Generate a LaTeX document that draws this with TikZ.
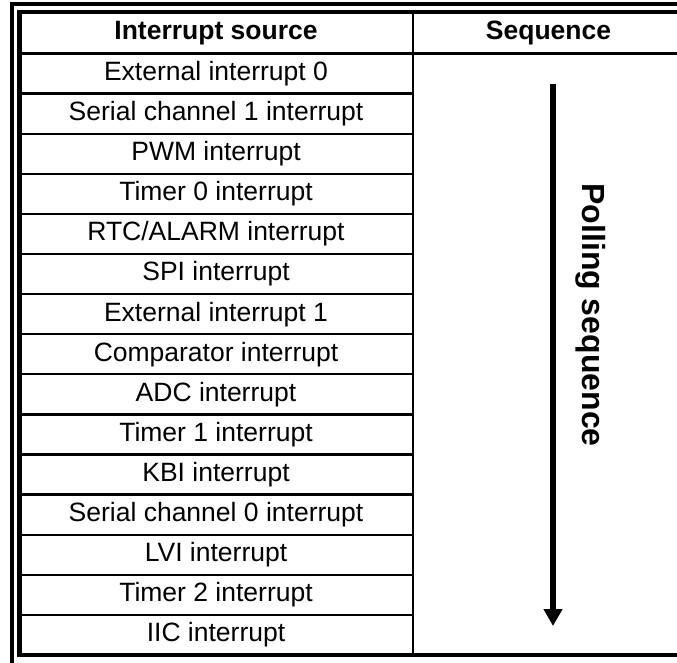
\documentclass[tikz,border=0pt]{standalone}
\usepackage{fontspec}
\setmainfont{Liberation Sans}
\usetikzlibrary{arrows.meta}
\def \rowh{40.1}
\def \rowtop{53.5}
\def \outerframe{ (12,700) -- (12,4) -- (700,4) }
\def \tableframe{ (700,12) -- (19.5,12) -- (19.5,655) -- (700,655) }

\begin{document}
\begin{tikzpicture}[x=1pt,y=-1pt,
    srccell/.style={font=\fontsize{26.5}{30}\selectfont, inner sep=0pt},
    headcell/.style={font=\fontsize{26.5}{30}\selectfont\bfseries, inner sep=0pt},
    thinrule/.style={line width=2.3pt},
    thickrule/.style={line width=4.3pt}]

    \useasboundingbox (0,0) rectangle (677,662);
    \clip (0,0) rectangle (677,662);

    \draw[thickrule] \outerframe;
    \draw[thickrule] \tableframe;
    \draw[thinrule] (19.5,\rowtop) -- (700,\rowtop);
    \draw[thinrule] (413,12) -- (413,655);

    \foreach \i in {1,...,14}
      \draw[thinrule] (19.5,{\rowtop+\i*\rowh}) -- (413,{\rowtop+\i*\rowh});

    \node[headcell] (hsrc) at (216,33) {Interrupt source};
    \node[headcell] (hseq) at (548.5,33) {Sequence};

    \foreach \name [count=\i] in {External interrupt 0, Serial channel 1 interrupt,
        PWM interrupt, Timer 0 interrupt, RTC/ALARM interrupt, SPI interrupt,
        External interrupt 1, Comparator interrupt, ADC interrupt,
        Timer 1 interrupt, KBI interrupt, Serial channel 0 interrupt,
        LVI interrupt, Timer 2 interrupt, IIC interrupt}
      \node[srccell] (src\i) at (216,{\rowtop+(\i-0.5)*\rowh}) {\name};

    \coordinate (seqtop) at (553,84);
    \coordinate (seqbot) at (553,626);
    \draw[line width=5.5pt,-{Triangle[width=18pt,length=17pt]}] (seqtop) -- (seqbot);
    \node[font=\fontsize{32}{36}\selectfont\bfseries, inner sep=0pt, rotate=-90] (poll) at (591,315) {Polling sequence};

  \end{tikzpicture}
\end{document}
